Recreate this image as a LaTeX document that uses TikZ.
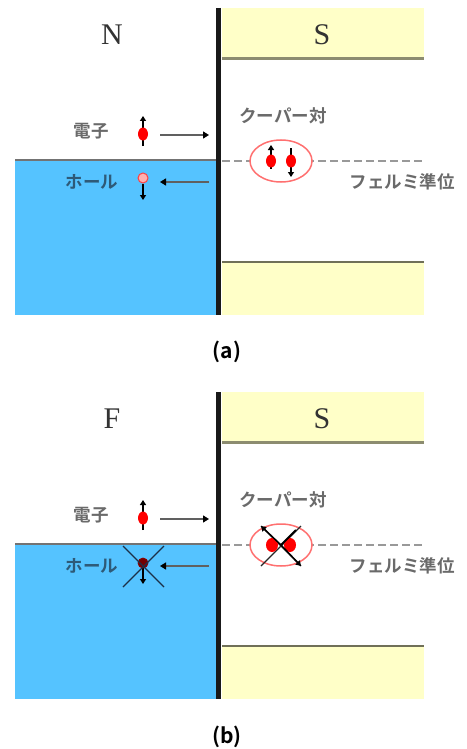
\documentclass[tikz,border=0pt]{standalone}
\usepackage{fontspec}
\setmainfont{Liberation Serif}
\newfontfamily\jp{Noto Sans CJK JP}[UprightFont=* Bold]
\newfontfamily\jpb{Noto Sans CJK JP}[UprightFont=* Bold]
\usetikzlibrary{arrows.meta,shapes.geometric}
\definecolor{nblue}{HTML}{55C3FF}
\definecolor{syel}{HTML}{FFFFC8}
\definecolor{bandline}{HTML}{8C8C70}
\definecolor{bandline2}{HTML}{707058}
\definecolor{txt}{HTML}{6A6A6A}
\definecolor{holetxt}{HTML}{2E5A78}
\definecolor{ringred}{HTML}{FF7070}
\definecolor{crossc}{HTML}{1C3048}
\tikzset{
  region/.style={font=\fontsize{30}{30}\selectfont, text=black!80, inner sep=0pt},
  jlabel/.style={font=\jp\fontsize{17.5}{17.5}\selectfont, text=txt, inner sep=0pt},
  caption/.style={font=\jpb\fontsize{21}{21}\selectfont, text=black, inner sep=0pt},
  edot/.style={ellipse, fill=red, minimum width=10pt, minimum height=13pt, inner sep=0pt, draw=none},
  hdot/.style={circle, fill=ringred!55, draw=red!75, line width=1pt, minimum size=10pt, inner sep=0pt},
  hdotx/.style={circle, fill=red!45!black, draw=red!55!black, line width=0.8pt, minimum size=10pt, inner sep=0pt},
  spin/.style={-{Triangle[length=5pt,width=6pt]}, line width=1.5pt, black},
  motion/.style={-{Triangle[length=6pt,width=7pt,color=black]}, line width=1.3pt, gray!75!black},
  cooper/.style={ellipse, draw=ringred, line width=1.5pt, fill=white, minimum width=62pt, minimum height=42pt, inner sep=0pt},
  fermi/.style={dash pattern=on 8pt off 4pt, line width=1.5pt, gray!80},
  iface/.style={line width=4.5pt, black!90},
  xline/.style={line width=1.3pt, crossc},
}
\begin{document}
\begin{tikzpicture}[x=1pt,y=-1pt]
\useasboundingbox (0,0) rectangle (466,749);
\fill[white] (0,0) rectangle (466,749);
\foreach \p/\oy/\lft in {a/0/N, b/384/F} {
  \begin{scope}[yshift=-\oy pt]
    % superconductor bands
    \fill[syel] (222,8) rectangle (424,58);
    \fill[syel] (222,262) rectangle (424,315);
    \draw[bandline, line width=2.5pt] (222,58.5) -- (424,58.5);
    \draw[bandline2, line width=2pt] (222,262) -- (424,262);
    % normal metal
    \fill[nblue] (15,160) rectangle (217,315);
    \draw[gray!90!black, line width=2pt] (15,160) -- (217,160);
    % fermi level
    \coordinate (\p fl) at (222,161);
    \coordinate (\p fr) at (424,161);
    \draw[fermi] (\p fl) -- (\p fr);
    % interface
    \coordinate (\p it) at (218.5,8);
    \coordinate (\p ib) at (218.5,315);
    \draw[iface] (\p it) -- (\p ib);
    % region labels
    \node[region] (\p N) at (112,35) {\lft};
    \node[region] (\p S) at (322,35) {S};
    % text labels
    \node[jlabel] (\p el) at (91,131) {電子};
    \node[jlabel, text=holetxt] (\p hl) at (92,182) {ホール};
    \node[jlabel] (\p cl) at (283,116) {クーパー対};
    \node[jlabel] (\p fm) at (402,182) {フェルミ準位};
    % cooper ring
    \node[cooper] (\p ring) at (281,161) {};
    % motion arrows
    \coordinate (\p ea) at (160,135);
    \coordinate (\p eb) at (209,135);
    \draw[motion] (\p ea) -- (\p eb);
    \coordinate (\p ha) at (209,182);
    \coordinate (\p hb) at (160,182);
    \draw[motion] (\p ha) -- (\p hb);
  \end{scope}
}
% ---------- panel (a) particles ----------
\coordinate (aes) at (143,146);
\coordinate (aet) at (143,116);
\draw[spin] (aes) -- (aet);
\node[edot] (ae) at (143,134) {};
\coordinate (ahs) at (143,184);
\coordinate (aht) at (143,200);
\draw[spin] (ahs) -- (aht);
\node[hdot] (ah) at (143,178) {};
\coordinate (ap1s) at (271,169);
\coordinate (ap1t) at (271,145);
\draw[spin] (ap1s) -- (ap1t);
\node[edot] (ap1) at (271,161) {};
\coordinate (ap2s) at (291,148);
\coordinate (ap2t) at (291,177);
\draw[spin] (ap2s) -- (ap2t);
\node[edot] (ap2) at (291,161) {};
\node[caption] (cap a) at (227,352) {(a)};
% ---------- panel (b) particles ----------
\coordinate (bes) at (143,530);
\coordinate (bet) at (143,500);
\draw[spin] (bes) -- (bet);
\node[edot] (be) at (143,518) {};
\coordinate (bhs) at (143,568);
\coordinate (bht) at (143,584);
\draw[spin] (bhs) -- (bht);
\node[hdotx] (bh) at (143,563) {};
\coordinate (bx1) at (123,546);
\coordinate (bx2) at (164,587);
\coordinate (bx3) at (164,546);
\coordinate (bx4) at (123,587);
\draw[xline] (bx1) -- (bx2);
\draw[xline] (bx3) -- (bx4);
% cooper pair crossed
\coordinate (bc1) at (261,526);
\coordinate (bc2) at (301,566);
\coordinate (bc3) at (301,526);
\coordinate (bc4) at (261,566);
\draw[line width=1.2pt, black!85] (bc1) -- (bc2);
\draw[line width=1.2pt, black!85] (bc3) -- (bc4);
\node[edot, minimum width=12pt, minimum height=14pt] (bp1) at (272,545) {};
\node[edot, minimum width=12pt, minimum height=14pt] (bp2) at (290,545) {};
\coordinate (bm) at (281,545);
\draw[spin] (bm) -- (bc1);
\draw[spin] (bm) -- (bc2);
\draw[line width=2pt, black] (bm) -- (296,530);
\node[caption] (cap b) at (227,737) {(b)};
\end{tikzpicture}
\end{document}
